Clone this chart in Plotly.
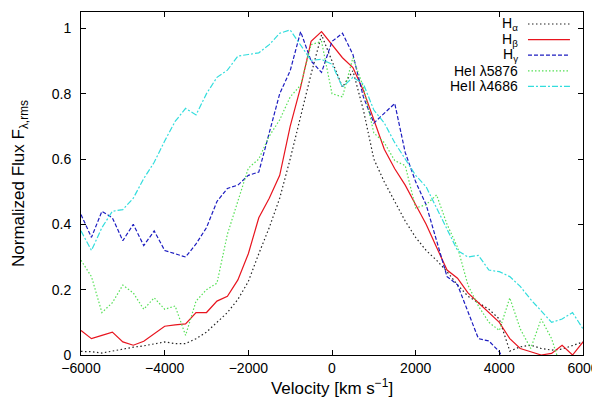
import plotly.graph_objects as go

# velocity grid (km/s)
velocity = [-6000, -5750, -5500, -5250, -5000, -4750, -4500, -4250, -4000, -3750,
            -3500, -3250, -3000, -2750, -2500, -2250, -2000, -1750, -1500, -1250,
            -1000, -750, -500, -250, 0, 250, 500, 750, 1000, 1250,
            1500, 1750, 2000, 2250, 2500, 2750, 3000, 3250, 3500, 3750,
            4000, 4250, 4500, 4750, 5000, 5250, 5500, 5750, 6000]

h_alpha = [0.011, 0.010, 0.006, 0.012, 0.020, 0.024, 0.028, 0.035, 0.040, 0.035,
           0.035, 0.050, 0.070, 0.100, 0.130, 0.170, 0.225, 0.310, 0.390, 0.480,
           0.600, 0.730, 0.860, 0.980, 0.900, 0.820, 0.870, 0.750, 0.600, 0.530,
           0.470, 0.410, 0.360, 0.320, 0.290, 0.255, 0.215, 0.180, 0.160, 0.140,
           0.110, 0.012, 0.025, 0.030, 0.020, 0.015, 0.018, 0.030, 0.040]

h_beta = [0.075, 0.050, 0.060, 0.070, 0.040, 0.030, 0.042, 0.065, 0.088, 0.092,
          0.095, 0.130, 0.130, 0.165, 0.180, 0.230, 0.310, 0.420, 0.480, 0.550,
          0.700, 0.820, 0.960, 0.990, 0.950, 0.910, 0.880, 0.810, 0.720, 0.630,
          0.570, 0.520, 0.460, 0.400, 0.330, 0.260, 0.235, 0.190, 0.160, 0.130,
          0.100, 0.050, 0.020, 0.010, 0.000, 0.005, 0.030, 0.000, 0.040]

h_gamma = [0.430, 0.360, 0.440, 0.420, 0.350, 0.400, 0.335, 0.380, 0.320, 0.310,
           0.300, 0.340, 0.390, 0.470, 0.510, 0.520, 0.550, 0.560, 0.680, 0.800,
           0.870, 0.990, 0.900, 0.865, 0.960, 0.985, 0.920, 0.790, 0.710, 0.740,
           0.770, 0.620, 0.530, 0.460, 0.350, 0.240, 0.215, 0.134, 0.050, 0.043,
           0.010, -0.050, -0.050, -0.050, -0.050, -0.050, -0.050, -0.050, -0.050]

hei_5876 = [0.290, 0.240, 0.130, 0.160, 0.214, 0.190, 0.140, 0.175, 0.140, 0.150,
            0.060, 0.165, 0.200, 0.220, 0.370, 0.470, 0.572, 0.600, 0.670, 0.720,
            0.790, 0.826, 0.950, 0.960, 0.800, 0.790, 0.910, 0.820, 0.680, 0.650,
            0.595, 0.580, 0.450, 0.460, 0.490, 0.400, 0.330, 0.214, 0.150, 0.100,
            0.075, 0.175, 0.080, 0.020, 0.110, 0.050, -0.050, -0.050, -0.050]

heii_4686 = [0.380, 0.320, 0.390, 0.440, 0.445, 0.480, 0.540, 0.590, 0.655, 0.715,
             0.755, 0.735, 0.800, 0.850, 0.872, 0.915, 0.920, 0.925, 0.950, 0.985,
             0.995, 0.950, 0.902, 0.905, 0.890, 0.820, 0.850, 0.830, 0.750, 0.710,
             0.650, 0.600, 0.550, 0.515, 0.450, 0.390, 0.320, 0.300, 0.305, 0.260,
             0.255, 0.240, 0.210, 0.170, 0.134, 0.100, 0.110, 0.130, 0.080]

labels = ["H<sub>α</sub>", "H<sub>β</sub>", "H<sub>γ</sub>",
          "HeI λ5876", "HeII λ4686"]
colors = ["#222222", "#e8141e", "#1c1cc0", "#55e055", "#33dddd"]
dashes = ["1.5px,2.5px", "solid", "4px,2px", "1.5px,2px", "6px,2px,2px,2px"]
series = [h_alpha, h_beta, h_gamma, hei_5876, heii_4686]

FONT = "Liberation Sans, Arial, sans-serif"

fig = go.Figure()

for name, y, col, dash in zip(labels, series, colors, dashes):
    fig.add_trace(go.Scatter(x=velocity, y=y, mode='lines', name=name,
                             line=dict(color=col, width=1.2, dash=dash),
                             showlegend=False))

# gnuplot-style key: text right-aligned, sample line on the right
for i, (name, col, dash) in enumerate(zip(labels, colors, dashes)):
    yk = 0.965 - i * 0.0455
    fig.add_annotation(xref='paper', yref='paper', x=0.872, y=yk,
                       text=name, showarrow=False, xanchor='right',
                       yanchor='middle', font=dict(size=14, color='black'),
                       borderpad=0)
    fig.add_shape(type='line', xref='paper', yref='paper',
                  x0=0.8904, x1=0.974, y0=yk, y1=yk,
                  line=dict(color=col, width=1.2, dash=dash))

fig.update_layout(width=600, height=397,
                  margin=dict(l=73, r=25, t=4, b=50),
                  font=dict(family=FONT, size=14, color='black'),
                  paper_bgcolor='white',
                  plot_bgcolor='white',
                  xaxis=dict(range=[-6000, 6000], dtick=2000, tick0=-6000,
                             showgrid=False, zeroline=False,
                             showline=True, linecolor='black', linewidth=1,
                             mirror='allticks', ticks='inside', ticklen=5,
                             tickcolor='black',
                             title=dict(text="Velocity [km s<sup>−1</sup>]",
                                        standoff=4)),
                  yaxis=dict(range=[0, 1.05], dtick=0.2, tick0=0,
                             showgrid=False, zeroline=False,
                             showline=True, linecolor='black', linewidth=1,
                             mirror='allticks', ticks='inside', ticklen=5,
                             tickcolor='black', ticklabelstandoff=6,
                             tickformat='.1~f',
                             title=dict(text="Normalized Flux F<sub>λ,rms</sub>",
                                        standoff=22)))

fig.write_html("out.html")
